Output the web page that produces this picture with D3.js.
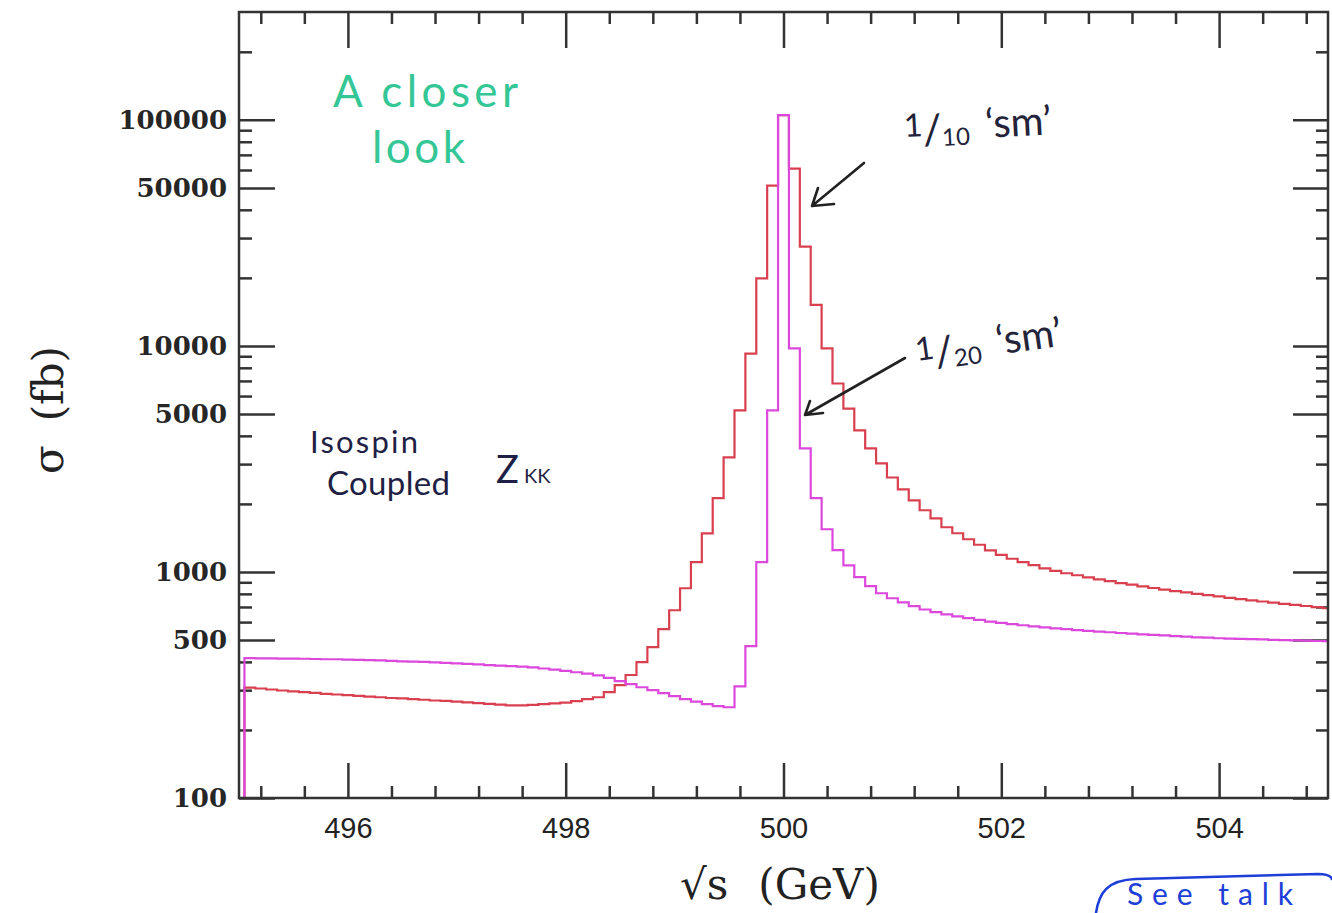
<!DOCTYPE html>
<html>
<head>
<meta charset="utf-8">
<script src="https://cdn.jsdelivr.net/npm/d3@7"></script>
<style>
  html, body { margin: 0; padding: 0; background: #fff; }
  svg { display: block; }
</style>
</head>
<body>
<svg id="chart" width="1332" height="913"></svg>
<script>
// Histogram binning in sqrt(s): 0.1 GeV bins, first bin edge at 495.05 GeV
const binStart = 495.05;
const binWidth = 0.1;

// sigma (fb) per bin, coupling 1/10 of the SM value
const sigmaTenth = [
  308, 305, 302, 299, 296, 294, 292, 289, 287,
  285, 283, 281, 279, 277, 276, 274, 272, 270, 269,
  267, 265, 263, 261, 259, 257, 257, 258, 260, 262,
  264, 268, 274, 279, 294, 316, 350, 399, 465, 558,
  677, 847, 1105, 1480, 2120, 3210, 5190, 9250, 19900, 51200,
  105000, 60800, 27500, 15200, 9750, 6820, 5280, 4230, 3520, 3020,
  2617, 2317, 2075, 1875, 1727, 1577, 1483, 1395, 1319, 1247,
  1191, 1144, 1105, 1071, 1038, 1012, 987, 967, 947, 928,
  910, 893, 878, 863, 849, 836, 823, 812, 800, 789,
  779, 768, 758, 749, 740, 731, 723, 715, 707, 699,
  691
];

// sigma (fb) per bin, coupling 1/20 of the SM value
const sigmaTwentieth = [
  416, 415, 415, 414, 414, 413, 412, 411, 411,
  409, 408, 407, 406, 404, 402, 401, 400, 398, 396,
  394, 392, 390, 387, 385, 383, 381, 378, 374, 370,
  365, 360, 355, 349, 340, 329, 319, 309, 300, 291,
  282, 274, 267, 260, 255, 252, 312, 470, 1105, 5190,
  105000, 9750, 3520, 2120, 1545, 1248, 1070, 948, 865, 805,
  765, 733, 706, 682, 664, 649, 636, 625, 614, 603,
  595, 588, 581, 575, 569, 563, 558, 553, 549, 545,
  541, 537, 533, 530, 527, 524, 520, 517, 514, 512,
  509, 507, 506, 504, 503, 501, 499, 498, 497, 495,
  494
];

// Axis ticks
const xMajorTicks = [496, 498, 500, 502, 504];
const yLabelTicks = [100, 500, 1000, 5000, 10000, 50000, 100000];

const W = 1332, H = 913;
const margin = { top: 12, right: 4, bottom: 115, left: 239 };
const x = d3.scaleLinear().domain([495, 505]).range([margin.left, W - margin.right]);
const y = d3.scaleLog().domain([100, 3e5]).range([H - margin.bottom, margin.top]);
const x0 = x.range()[0], x1 = x.range()[1];
const yBot = y.range()[0], yTop = y.range()[1];

const svg = d3.select('#chart');
const axisColor = '#333';

svg.append('clipPath').attr('id', 'plotArea')
  .append('rect').attr('x', x0).attr('y', yTop).attr('width', x1 - x0).attr('height', yBot - yTop);

// minor tick positions
const xMinorTicks = d3.range(0, 25).map(i => +(495.2 + 0.4 * i).toFixed(1))
  .filter(v => !xMajorTicks.includes(v));
const yMinorTicks = [];
[100, 1000, 10000, 100000].forEach(dec => {
  for (let m = 2; m <= 9; m++) {
    const v = dec * m;
    if (m !== 5 && v < 3e5) yMinorTicks.push(v);
  }
});

function styleAxis(sel) {
  sel.select('.domain').remove();
  sel.selectAll('.tick line').attr('stroke', axisColor).attr('stroke-width', 2.5);
}

// bottom axis (labelled majors + minors)
svg.append('g').attr('transform', `translate(0,${yBot})`)
  .call(d3.axisBottom(x).tickValues(xMajorTicks).tickSize(-35).tickPadding(19).tickFormat(d3.format('d')))
  .call(styleAxis)
  .call(s => s.selectAll('text')
    .attr('font-family', '"Liberation Sans", Arial, sans-serif')
    .attr('font-size', 29).attr('fill', '#222'));
svg.append('g').attr('transform', `translate(0,${yBot})`)
  .call(d3.axisBottom(x).tickValues(xMinorTicks).tickSize(-12).tickFormat(''))
  .call(styleAxis);

// top axis (mirrored ticks)
svg.append('g').attr('transform', `translate(0,${yTop})`)
  .call(d3.axisTop(x).tickValues(xMajorTicks).tickSize(-36).tickFormat(''))
  .call(styleAxis);
svg.append('g').attr('transform', `translate(0,${yTop})`)
  .call(d3.axisTop(x).tickValues(xMinorTicks).tickSize(-12).tickFormat(''))
  .call(styleAxis);

// left axis
svg.append('g').attr('transform', `translate(${x0},0)`)
  .call(d3.axisLeft(y).tickValues(yLabelTicks).tickSize(-36).tickPadding(12).tickFormat(d3.format('d')))
  .call(styleAxis)
  .call(s => s.selectAll('text')
    .attr('font-family', '"DejaVu Serif", serif')
    .attr('font-weight', 'bold')
    .attr('font-size', 26).attr('fill', '#262626'));
svg.append('g').attr('transform', `translate(${x0},0)`)
  .call(d3.axisLeft(y).tickValues(yMinorTicks).tickSize(-13).tickFormat(''))
  .call(styleAxis);

// right axis (mirrored ticks)
svg.append('g').attr('transform', `translate(${x1},0)`)
  .call(d3.axisRight(y).tickValues(yLabelTicks).tickSize(-35).tickFormat(''))
  .call(styleAxis);
svg.append('g').attr('transform', `translate(${x1},0)`)
  .call(d3.axisRight(y).tickValues(yMinorTicks).tickSize(-12).tickFormat(''))
  .call(styleAxis);

// histogram outlines
function histPoints(vals) {
  const pts = [[binStart, 100]];
  vals.forEach((v, i) => pts.push([binStart + i * binWidth, v]));
  pts.push([binStart + vals.length * binWidth, vals[vals.length - 1]]);
  return pts;
}
const stepLine = d3.line().x(d => x(d[0])).y(d => y(d[1])).curve(d3.curveStepAfter);

const plot = svg.append('g').attr('clip-path', 'url(#plotArea)');
plot.append('path').datum(histPoints(sigmaTenth))
  .attr('d', stepLine).attr('fill', 'none')
  .attr('stroke', '#d9404f').attr('stroke-width', 2.2);
plot.append('path').datum(histPoints(sigmaTwentieth))
  .attr('d', stepLine).attr('fill', 'none')
  .attr('stroke', '#dc48dc').attr('stroke-width', 2.2);

// frame
svg.append('rect').attr('x', x0).attr('y', yTop).attr('width', x1 - x0).attr('height', yBot - yTop)
  .attr('fill', 'none').attr('stroke', axisColor).attr('stroke-width', 2.5);

// axis titles
const xTitle = svg.append('text').attr('x', 680).attr('y', 899)
  .attr('font-family', '"DejaVu Serif", serif').attr('font-size', 42).attr('fill', '#222');
xTitle.append('tspan').text('√s');
xTitle.append('tspan').attr('dx', 30).text('(GeV)');

const yTitle = svg.append('text').attr('transform', 'translate(63,410) rotate(-90)')
  .attr('text-anchor', 'middle')
  .attr('font-family', '"DejaVu Serif", serif').attr('font-size', 42).attr('fill', '#222');
yTitle.append('tspan').text('σ');
yTitle.append('tspan').attr('dx', 24).text('(fb)');

// handwritten notes
const hand = '"Lato", "Open Sans", sans-serif';
svg.append('text').attr('x', 333).attr('y', 107)
  .attr('font-family', hand).attr('font-size', 44).attr('fill', '#34c795')
  .attr('textLength', 185).attr('lengthAdjust', 'spacing').text('A closer');
svg.append('text').attr('x', 372).attr('y', 163)
  .attr('font-family', hand).attr('font-size', 44).attr('fill', '#34c795')
  .attr('textLength', 93).attr('lengthAdjust', 'spacing').text('look');

function fractionNote(px, py, denom, rot) {
  const t = svg.append('text').attr('transform', `translate(${px},${py}) rotate(${rot})`)
    .attr('font-family', hand).attr('fill', '#23233a');
  t.append('tspan').attr('font-size', 32).attr('dy', -9).text('1');
  t.append('tspan').attr('font-size', 42).attr('dy', 9).text('/');
  t.append('tspan').attr('font-size', 24).attr('dy', 2).text(denom);
  t.append('tspan').attr('font-size', 40).attr('dy', -6).attr('dx', 16).text('‘sm’');
}
fractionNote(905, 146, '10', -3);
fractionNote(918, 370, '20', -8);

svg.append('text').attr('x', 310).attr('y', 453)
  .attr('font-family', hand).attr('font-size', 31).attr('fill', '#1f1f45')
  .attr('textLength', 108).attr('lengthAdjust', 'spacing').text('Isospin');
svg.append('text').attr('x', 327).attr('y', 495)
  .attr('font-family', hand).attr('font-size', 33).attr('fill', '#1f1f45')
  .attr('textLength', 123).attr('lengthAdjust', 'spacing').text('Coupled');
const zkk = svg.append('text').attr('x', 496).attr('y', 483)
  .attr('font-family', hand).attr('fill', '#1f1f45');
zkk.append('tspan').attr('font-size', 38).text('Z');
zkk.append('tspan').attr('font-size', 20).attr('dx', 5).text('KK');

// arrows
const arrowColor = '#222';
const arrows = svg.append('g').attr('fill', 'none').attr('stroke', arrowColor)
  .attr('stroke-width', 2.6).attr('stroke-linecap', 'round').attr('stroke-linejoin', 'round');
arrows.append('path').attr('d', 'M864,163 L812,206 M818,188 L812,206 L834,204');
arrows.append('path').attr('d', 'M905,358 L805,415 M810,401 L805,415 L823,413');

// "See talk" note
svg.append('path').attr('d', 'M1096,913 C1099,893 1107,880 1136,879 L1318,874 Q1330,874 1332,879')
  .attr('fill', 'none').attr('stroke', '#1d3fd8').attr('stroke-width', 2.6).attr('stroke-linecap', 'round');
svg.append('text').attr('x', 1127).attr('y', 905)
  .attr('font-family', hand).attr('font-size', 30).attr('fill', '#1d3fd8')
  .attr('textLength', 166).attr('lengthAdjust', 'spacing').text('See talk');
</script>
</body>
</html>
